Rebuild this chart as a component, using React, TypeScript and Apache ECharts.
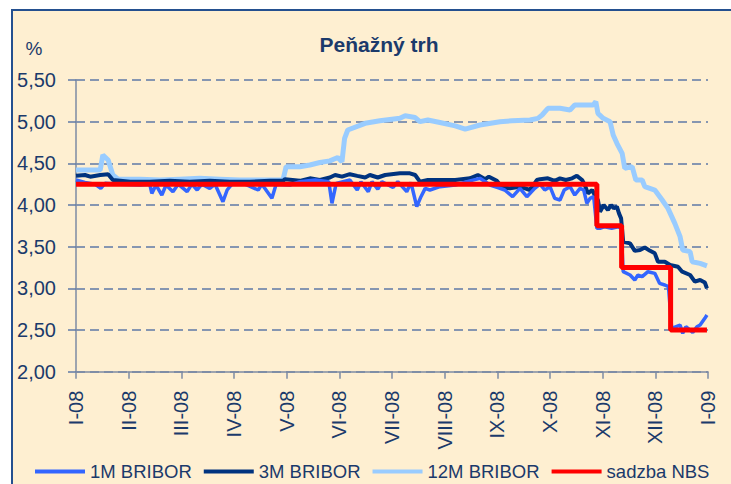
import React, { useEffect, useRef } from "react";
import * as echarts from "echarts";

const monthLabels = ["I-08", "II-08", "III-08", "IV-08", "V-08", "VI-08", "VII-08", "VIII-08", "IX-08", "X-08", "XI-08", "XII-08", "I-09"];
const yTicks = [2.0, 2.5, 3.0, 3.5, 4.0, 4.5, 5.0, 5.5];

// x = months since start of January 2008, y = rate in %
const bribor1M: [number, number][] = [
  [0, 4.30], [0.17, 4.27], [0.36, 4.25], [0.47, 4.20], [0.55, 4.26], [0.84, 4.25], [1.22, 4.24], [1.40, 4.25],
  [1.44, 4.14], [1.52, 4.24], [1.63, 4.12], [1.71, 4.24], [1.84, 4.16], [1.94, 4.25], [2.11, 4.16], [2.20, 4.25],
  [2.30, 4.18], [2.39, 4.25], [2.54, 4.20], [2.64, 4.25], [2.79, 4.04], [2.87, 4.18], [2.96, 4.25], [3.21, 4.25],
  [3.46, 4.18], [3.53, 4.25], [3.72, 4.08], [3.80, 4.25], [4.06, 4.24], [4.25, 4.28], [4.54, 4.30], [4.80, 4.28],
  [4.86, 4.02], [4.94, 4.26], [5.20, 4.30], [5.34, 4.18], [5.41, 4.28], [5.55, 4.16], [5.62, 4.28], [5.73, 4.19],
  [5.81, 4.28], [6.02, 4.21], [6.11, 4.28], [6.28, 4.16], [6.36, 4.27], [6.47, 3.98], [6.55, 4.10], [6.63, 4.20],
  [6.72, 4.18], [6.91, 4.22], [7.20, 4.24], [7.48, 4.29], [7.67, 4.32], [7.77, 4.28], [7.86, 4.24], [8.01, 4.21],
  [8.14, 4.18], [8.29, 4.10], [8.43, 4.20], [8.56, 4.10], [8.71, 4.20], [8.81, 4.25], [8.90, 4.18], [9.00, 4.22],
  [9.09, 4.08], [9.19, 4.06], [9.27, 4.18], [9.38, 4.22], [9.47, 4.12], [9.57, 4.20], [9.64, 4.18], [9.70, 4.02],
  [9.76, 4.08], [9.83, 4.10], [9.89, 3.72], [9.95, 3.72], [10.04, 3.74], [10.17, 3.72], [10.29, 3.74], [10.35, 3.72],
  [10.39, 3.20], [10.52, 3.16], [10.61, 3.10], [10.67, 3.16], [10.75, 3.14], [10.86, 3.20], [10.99, 3.18], [11.08, 3.06],
  [11.18, 3.04], [11.25, 3.02], [11.31, 2.52], [11.47, 2.56], [11.52, 2.46], [11.58, 2.54], [11.66, 2.50], [11.71, 2.47],
  [11.79, 2.54], [11.85, 2.56], [11.94, 2.64], [11.98, 2.68],
];

const bribor3M: [number, number][] = [
  [0, 4.35], [0.17, 4.36], [0.27, 4.34], [0.46, 4.36], [0.61, 4.37], [0.70, 4.30], [1.03, 4.28], [1.40, 4.28],
  [1.78, 4.29], [2.16, 4.28], [2.54, 4.29], [2.92, 4.28], [3.30, 4.28], [3.68, 4.29], [3.93, 4.29], [3.97, 4.31],
  [4.25, 4.29], [4.44, 4.32], [4.63, 4.30], [4.82, 4.33], [4.92, 4.36], [5.05, 4.34], [5.20, 4.37], [5.34, 4.35],
  [5.49, 4.33], [5.58, 4.36], [5.73, 4.33], [5.87, 4.36], [6.15, 4.38], [6.34, 4.38], [6.44, 4.36], [6.53, 4.28],
  [6.68, 4.30], [6.91, 4.30], [7.20, 4.30], [7.48, 4.32], [7.63, 4.36], [7.77, 4.31], [7.84, 4.34], [7.99, 4.29],
  [8.09, 4.21], [8.24, 4.20], [8.43, 4.22], [8.62, 4.18], [8.75, 4.30], [8.81, 4.31], [8.96, 4.32], [9.09, 4.29],
  [9.19, 4.32], [9.30, 4.30], [9.42, 4.32], [9.51, 4.35], [9.61, 4.30], [9.66, 4.24], [9.72, 4.14], [9.80, 4.18],
  [9.85, 4.12], [9.91, 4.06], [9.95, 3.92], [10.02, 4.00], [10.10, 3.94], [10.16, 4.00], [10.21, 3.96], [10.27, 3.98],
  [10.31, 3.90], [10.35, 3.84], [10.39, 3.56], [10.52, 3.54], [10.61, 3.45], [10.71, 3.46], [10.80, 3.49], [10.90, 3.45],
  [10.99, 3.42], [11.05, 3.32], [11.18, 3.32], [11.28, 3.28], [11.43, 3.26], [11.51, 3.20], [11.66, 3.16], [11.75, 3.08],
  [11.85, 3.10], [11.94, 3.07], [11.98, 3.00],
];

const bribor12M: [number, number][] = [
  [0, 4.42], [0.46, 4.42], [0.51, 4.60], [0.61, 4.54], [0.70, 4.36], [0.80, 4.31], [1.22, 4.31], [1.59, 4.30],
  [1.97, 4.31], [2.35, 4.32], [2.73, 4.31], [3.11, 4.30], [3.49, 4.30], [3.93, 4.30], [3.99, 4.46], [4.25, 4.46],
  [4.44, 4.48], [4.63, 4.51], [4.82, 4.53], [4.97, 4.57], [5.05, 4.52], [5.10, 4.80], [5.16, 4.90], [5.49, 4.98],
  [5.77, 5.01], [6.15, 5.04], [6.25, 5.07], [6.44, 5.05], [6.53, 5.00], [6.68, 5.02], [6.91, 4.99], [7.20, 4.95],
  [7.39, 4.91], [7.67, 4.96], [8.05, 5.00], [8.28, 5.01], [8.62, 5.02], [8.77, 5.04], [8.85, 5.08], [8.96, 5.16],
  [9.19, 5.16], [9.38, 5.14], [9.47, 5.20], [9.66, 5.20], [9.82, 5.20], [9.87, 5.24], [9.91, 5.10], [10.01, 5.04],
  [10.14, 5.00], [10.20, 4.84], [10.27, 4.74], [10.37, 4.62], [10.42, 4.44], [10.56, 4.46], [10.63, 4.30], [10.75, 4.30],
  [10.80, 4.22], [10.99, 4.18], [11.13, 4.06], [11.24, 3.96], [11.37, 3.78], [11.47, 3.62], [11.52, 3.46], [11.66, 3.44],
  [11.70, 3.32], [11.85, 3.30], [11.98, 3.27],
];

const nbsRate: [number, number][] = [
  [0, 4.25], [9.89, 3.75], [10.36, 3.25], [11.29, 2.5], [11.98, 2.5],
];

const seriesNames = ["1M BRIBOR", "3M BRIBOR", "12M BRIBOR", "sadzba NBS"];

const FONT = '"Liberation Sans", Arial, sans-serif';
const NAVY = "#1B3A6B";

export default function App() {
  const ref = useRef<HTMLDivElement>(null);
  useEffect(() => {
    if (!ref.current) return;
    const chart = echarts.init(ref.current, null, { renderer: "svg" });
    chart.setOption({
      animation: false,
      backgroundColor: "#FFFFFF",
      textStyle: { fontFamily: FONT },
      graphic: [
        {
          type: "rect",
          z: -10,
          silent: true,
          shape: { x: 12, y: 10, width: 740, height: 500 },
          style: { fill: "#FEEFD1", stroke: "#24508F", lineWidth: 2 },
        },
        {
          type: "text",
          x: 379,
          y: 44,
          style: {
            text: "Peňažný trh",
            fill: NAVY,
            font: `bold 21px ${FONT}`,
            textAlign: "center",
            textVerticalAlign: "middle",
          },
        },
        {
          type: "text",
          x: 34,
          y: 48,
          style: {
            text: "%",
            fill: NAVY,
            font: `19px ${FONT}`,
            textAlign: "center",
            textVerticalAlign: "middle",
          },
        },
      ],
      grid: { left: 76, top: 80, right: 23, bottom: 112.3 },
      legend: {
        data: seriesNames,
        left: 35,
        top: 462,
        padding: 0,
        itemWidth: 50,
        itemHeight: 4,
        itemGap: 12,
        icon: "rect",
        textStyle: { color: NAVY, fontSize: 18.5, fontFamily: FONT },
      },
      xAxis: {
        type: "value",
        min: 0,
        max: 12,
        interval: 1,
        axisLine: { show: true, onZero: false, lineStyle: { color: "#7D8BA3", width: 1.5 } },
        axisTick: { show: true, length: 7, lineStyle: { color: "#7D8BA3", width: 1.5 } },
        splitLine: { show: false },
        axisLabel: {
          rotate: 90,
          margin: 19,
          color: NAVY,
          fontSize: 20,
          fontFamily: FONT,
          formatter: (v: number) => monthLabels[Math.round(v)] ?? "",
        },
      },
      yAxis: {
        type: "value",
        min: yTicks[0],
        max: yTicks[yTicks.length - 1],
        interval: 0.5,
        axisLine: { show: true, lineStyle: { color: "#7D8BA3", width: 1.5 } },
        axisTick: { show: true, length: 8, lineStyle: { color: "#5F7AA6", width: 1.5 } },
        splitLine: { show: true, lineStyle: { color: "#5F7AA6", width: 1.5, type: [9, 5] } },
        axisLabel: {
          margin: 20,
          color: NAVY,
          fontSize: 20,
          fontFamily: FONT,
          formatter: (v: number) => v.toFixed(2).replace(".", ","),
        },
      },
      series: [
        {
          name: "12M BRIBOR",
          type: "line",
          data: bribor12M,
          showSymbol: false,
          color: "#99CCFF",
          lineStyle: { width: 5, color: "#99CCFF" },
          z: 2,
        },
        {
          name: "3M BRIBOR",
          type: "line",
          data: bribor3M,
          showSymbol: false,
          color: "#00337F",
          lineStyle: { width: 4, color: "#00337F" },
          z: 3,
        },
        {
          name: "1M BRIBOR",
          type: "line",
          data: bribor1M,
          showSymbol: false,
          color: "#3366FF",
          lineStyle: { width: 3.5, color: "#3366FF" },
          z: 4,
        },
        {
          name: "sadzba NBS",
          type: "line",
          data: nbsRate,
          step: "end",
          showSymbol: false,
          color: "#FF0000",
          lineStyle: { width: 5, color: "#FF0000" },
          z: 5,
        },
      ],
    });
    return () => chart.dispose();
  }, []);
  return (
    <div
      ref={ref}
      style={{ position: "absolute", left: 0, top: 0, width: 731, height: 484 }}
    />
  );
}
